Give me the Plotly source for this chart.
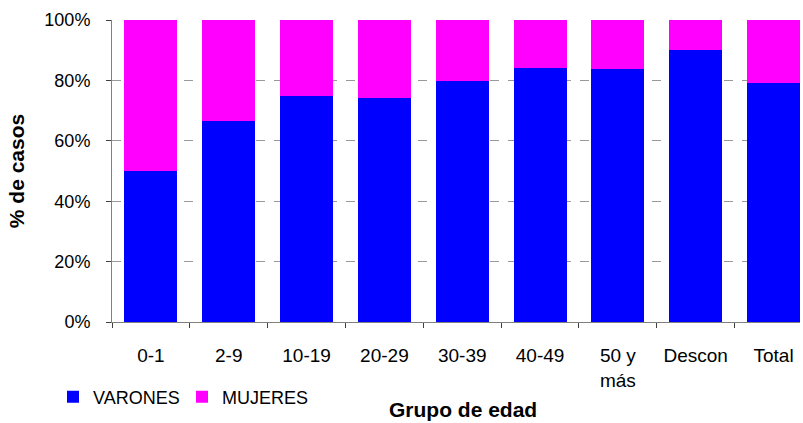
import plotly.graph_objects as go

categories = ["0-1", "2-9", "10-19", "20-29", "30-39", "40-49", "50 y<br>más", "Descon", "Total"]
varones = [50, 66.6, 74.8, 74.2, 79.8, 84.1, 83.8, 90.1, 79.1]
mujeres = [100 - v for v in varones]
y_ticks = [0, 20, 40, 60, 80, 100]
y_tick_labels = ["0%", "20%", "40%", "60%", "80%", "100%"]

W, H = 803, 423
L, R, T, B = 112, 3, 20, 101
PH = H - T - B

fig = go.Figure()
fig.add_trace(go.Bar(name="VARONES", x=categories, y=varones, marker=dict(color="#0000FF", line=dict(width=0))))
fig.add_trace(go.Bar(name="MUJERES", x=categories, y=mujeres, marker=dict(color="#FF00FF", line=dict(width=0))))

font = "Liberation Sans, Arial, sans-serif"
fig.update_layout(
    width=W, height=H,
    margin=dict(l=L, r=R, t=T, b=B, autoexpand=False),
    barmode="stack", bargap=0.32,
    plot_bgcolor="white", paper_bgcolor="white",
    font=dict(family=font, size=18, color="black"),
    showlegend=True,
    legend=dict(orientation="h", x=(53 - L) / (W - L - R), xanchor="left",
                y=(T + PH - 397) / PH, yanchor="middle",
                font=dict(size=18), bgcolor="rgba(0,0,0,0)", traceorder="normal",
                itemwidth=30, tracegroupgap=0, entrywidth=84, entrywidthmode="pixels"),
)
fig.update_xaxes(
    type="category", range=[-0.5, 8.34],
    showline=True, linecolor="#808080", linewidth=1,
    ticks="outside", tickson="boundaries", ticklen=5, tickcolor="#404040",
    ticklabelstandoff=16,
    tickfont=dict(size=19), showgrid=False,
)
fig.update_yaxes(
    range=[0, 100], tickvals=y_ticks, ticktext=y_tick_labels,
    showline=True, linecolor="#808080", linewidth=1,
    ticks="outside", ticklen=5, tickcolor="#404040",
    ticklabelstandoff=12,
    tickfont=dict(size=18),
    showgrid=True, gridcolor="#999999", griddash="dash", gridwidth=1,
    title=dict(text="<b>% de casos</b>", font=dict(size=21), standoff=14),
)
fig.add_annotation(text="<b>Grupo de edad</b>", xref="paper", yref="paper",
                   x=(463 - L) / (W - L - R), y=(T + PH - 409) / PH,
                   xanchor="center", yanchor="middle", showarrow=False,
                   font=dict(size=21))

fig.write_html("out.html", config={"displayModeBar": False},
               post_script="document.body.style.margin='0';")
